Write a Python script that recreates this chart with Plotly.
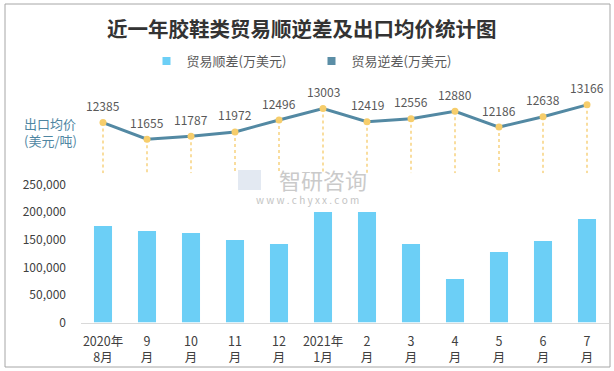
import plotly.graph_objects as go

W, H = 614, 371

categories = ["2020年<br>8月", "9<br>月", "10<br>月", "11<br>月", "12<br>月", "2021年<br>1月",
              "2<br>月", "3<br>月", "4<br>月", "5<br>月", "6<br>月", "7<br>月"]
surplus = [174800, 165800, 162100, 149500, 142200, 200200, 200200, 142200, 78800, 127700, 147600, 187500]
deficit = [0, 0, 0, 0, 0, 0, 0, 0, 0, 0, 0, 0]
export_price = [12385, 11655, 11787, 11972, 12496, 13003, 12419, 12556, 12880, 12186, 12638, 13166]

title_text = "近一年胶鞋类贸易顺逆差及出口均价统计图"
surplus_name = "贸易顺差(万美元)"
deficit_name = "贸易逆差(万美元)"
price_label = "出口均价<br>(美元/吨)"
y_ticks = [0, 50000, 100000, 150000, 200000, 250000]

FONT = "Microsoft YaHei, Noto Sans CJK SC, sans-serif"
SURPLUS_COLOR = "#6CCFF6"
DEFICIT_COLOR = "#5B8EA6"
price_min, price_max = 10150, 14040

def px_x(p):
    return p / W

def px_y(p):
    return (H - p) / H

fig = go.Figure()

fig.add_trace(go.Bar(
    x=categories, y=surplus, name=surplus_name, showlegend=False,
    marker=dict(color=SURPLUS_COLOR, line=dict(width=0)),
    xaxis="x", yaxis="y",
))
fig.add_trace(go.Bar(
    x=categories, y=deficit, name=deficit_name, showlegend=False,
    marker=dict(color=DEFICIT_COLOR, line=dict(width=0)),
    xaxis="x", yaxis="y",
))
# legend entries (small square keys like the reference)
for nm, col in [(surplus_name, SURPLUS_COLOR), (deficit_name, DEFICIT_COLOR)]:
    fig.add_trace(go.Scatter(
        x=[None], y=[None], mode="markers", name=nm,
        marker=dict(symbol="square", size=8, color=col, line=dict(width=0)),
        xaxis="x", yaxis="y",
    ))

# drop lines from each price point to the bottom of the price panel
dx, dy = [], []
for c, v in zip(categories, export_price):
    dx += [c, c, None]
    dy += [v, price_min, None]
fig.add_trace(go.Scatter(
    x=dx, y=dy, mode="lines", showlegend=False, hoverinfo="skip",
    line=dict(color="#F7D27E", width=1.5, dash="dot"),
    xaxis="x", yaxis="y2",
))
fig.add_trace(go.Scatter(
    x=categories, y=export_price, mode="lines+markers", showlegend=False,
    line=dict(color="#5389A3", width=3),
    marker=dict(color="#F6CD6B", size=7, line=dict(width=0)),
    xaxis="x", yaxis="y2", cliponaxis=False,
))

annotations = []
for c, v in zip(categories, export_price):
    annotations.append(dict(
        x=c, y=v, xref="x", yref="y2", text=str(v), showarrow=False,
        yshift=17, yanchor="middle",
        font=dict(size=12, color="#595959", family=FONT),
    ))

annotations.append(dict(
    x=px_x(22), y=px_y(132), xref="paper", yref="paper", text=price_label,
    showarrow=False, xanchor="left", yanchor="middle", align="left",
    font=dict(size=13, color="#4E86A2", family=FONT),
))
# watermark
annotations.append(dict(
    x=px_x(323), y=px_y(179), xref="paper", yref="paper", text="智研咨询",
    showarrow=False, xanchor="center", yanchor="middle",
    font=dict(size=22, color="#CACACA", family=FONT),
))
annotations.append(dict(
    x=px_x(307), y=px_y(199), xref="paper", yref="paper",
    text="w w w . c h y x x . c o m", xanchor="center", yanchor="middle",
    showarrow=False, font=dict(size=10, color="#C4C4C4", family=FONT),
))
annotations.append(dict(
    x=px_x(302), y=px_y(28), xref="paper", yref="paper", text="<b>" + title_text + "</b>",
    showarrow=False, xanchor="center", yanchor="middle",
    font=dict(size=20.5, color="#333333", family=FONT),
))

shapes = [
    dict(type="rect", xref="paper", yref="paper",
         x0=px_x(5), x1=px_x(610), y0=px_y(367), y1=px_y(4),
         line=dict(color="#A6A6A6", width=1), fillcolor="rgba(0,0,0,0)"),
    # watermark logo block
    dict(type="rect", xref="paper", yref="paper",
         x0=px_x(238), x1=px_x(261), y0=px_y(190), y1=px_y(170),
         line=dict(width=0), fillcolor="rgba(200,212,230,0.5)"),
]

fig.update_layout(
    width=W, height=H,
    margin=dict(l=0, r=0, t=0, b=0, pad=0, autoexpand=False),
    paper_bgcolor="white", plot_bgcolor="rgba(0,0,0,0)",
    font=dict(family=FONT, color="#404040", size=12),
    bargap=0.59, barmode="overlay",
    showlegend=True,
    legend=dict(
        orientation="h", x=px_x(311.5), xanchor="center", y=px_y(61), yanchor="middle",
        font=dict(size=13, color="#595959", family=FONT),
        bgcolor="rgba(0,0,0,0)", traceorder="normal",
        entrywidth=120, entrywidthmode="pixels",
        itemwidth=30,
    ),
    xaxis=dict(
        domain=[px_x(81), px_x(609)], anchor="y", automargin=False,
        type="category", categoryorder="array", categoryarray=categories,
        range=[-0.5, len(categories) - 0.5], autorange=False,
        showgrid=False, showline=True, linecolor="#D9D9D9", linewidth=1,
        ticks="", tickfont=dict(size=12.5, color="#404040"),
        ticklabelstandoff=7, zeroline=False,
    ),
    yaxis=dict(
        domain=[px_y(322.5), px_y(184.5)], anchor="x", automargin=False,
        range=[0, 250000], tickvals=y_ticks, tickformat=",",
        showgrid=False, zeroline=False, showline=False, ticks="",
        tickfont=dict(size=12, color="#404040"), ticklabelstandoff=14,
    ),
    yaxis2=dict(
        domain=[px_y(173.3), px_y(85)], anchor="x", automargin=False,
        range=[price_min, price_max], visible=False,
    ),
    annotations=annotations,
    shapes=shapes,
)

fig.write_html(
    "out.html",
    config={"responsive": False, "displayModeBar": False},
    post_script="document.body.style.margin='0';document.body.style.padding='0';document.body.style.overflow='hidden';",
)
